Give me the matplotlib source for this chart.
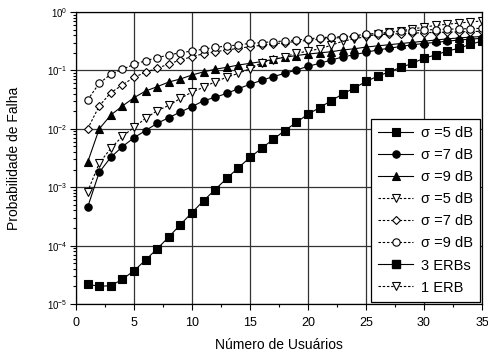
import numpy as np
import matplotlib
matplotlib.use("Agg")
import matplotlib.pyplot as plt
from matplotlib.lines import Line2D
from matplotlib.ticker import LogLocator, MultipleLocator, LogFormatterSciNotation

plt.rcParams['font.family'] = ['Liberation Sans', 'DejaVu Sans']
plt.rcParams['mathtext.fontset'] = 'custom'
plt.rcParams['mathtext.rm'] = 'Liberation Sans'
plt.rcParams['mathtext.it'] = 'Liberation Sans:italic'
plt.rcParams['mathtext.bf'] = 'Liberation Sans:bold'

users = np.arange(1, 36)

# log10 of failure probability
log_s5_solid = [-4.663, -4.697, -4.687, -4.577, -4.43, -4.247, -4.053, -3.853, -3.64, -3.435,
                -3.23, -3.04, -2.848, -2.666, -2.49, -2.334, -2.18, -2.03, -1.89, -1.75,
                -1.638, -1.518, -1.404, -1.30, -1.19, -1.10, -1.025, -0.948, -0.879, -0.79,
                -0.736, -0.668, -0.622, -0.553, -0.497]
log_s7_solid = [-3.345, -2.745, -2.488, -2.306, -2.152, -2.03, -1.906, -1.81, -1.712, -1.62,
                -1.52, -1.46, -1.393, -1.313, -1.238, -1.17, -1.107, -1.05, -0.993, -0.93,
                -0.879, -0.822, -0.77, -0.73, -0.69, -0.65, -0.62, -0.59, -0.56, -0.54,
                -0.52, -0.50, -0.48, -0.465, -0.45]
log_s9_solid = [-2.574, -2.003, -1.764, -1.61, -1.467, -1.353, -1.279, -1.199, -1.147, -1.079,
                -1.025, -0.98, -0.947, -0.908, -0.879, -0.85, -0.81, -0.776, -0.745, -0.72,
                -0.70, -0.68, -0.65, -0.63, -0.60, -0.58, -0.56, -0.54, -0.52, -0.50,
                -0.48, -0.46, -0.445, -0.43, -0.42]
log_s5_dot = [-3.077, -2.591, -2.334, -2.13, -1.975, -1.82, -1.69, -1.60, -1.48, -1.37,
              -1.29, -1.193, -1.118, -1.05, -0.97, -0.87, -0.82, -0.765, -0.708, -0.67,
              -0.63, -0.57, -0.50, -0.46, -0.42, -0.38, -0.35, -0.32, -0.29, -0.26,
              -0.23, -0.21, -0.19, -0.17, -0.155]
log_s7_dot = [-2.003, -1.61, -1.381, -1.25, -1.118, -1.033, -0.964, -0.89, -0.822, -0.765,
              -0.714, -0.68, -0.651, -0.622, -0.594, -0.57, -0.545, -0.525, -0.505, -0.485,
              -0.465, -0.45, -0.435, -0.42, -0.405, -0.39, -0.38, -0.37, -0.36, -0.355,
              -0.35, -0.345, -0.34, -0.335, -0.33]
log_s9_dot = [-1.507, -1.221, -1.067, -0.981, -0.896, -0.834, -0.782, -0.736, -0.697, -0.668,
              -0.636, -0.605, -0.582, -0.565, -0.536, -0.525, -0.508, -0.497, -0.479, -0.462,
              -0.44, -0.43, -0.42, -0.405, -0.38, -0.365, -0.35, -0.33, -0.32, -0.31,
              -0.30, -0.295, -0.29, -0.285, -0.28]

labels = ["σ =5 dB", "σ =7 dB", "σ =9 dB", "σ =5 dB", "σ =7 dB", "σ =9 dB", "3 ERBs", "1 ERB"]

fig = plt.figure(figsize=(4.89, 3.56), dpi=100)
ax = fig.add_axes([76/489, 1-304/356, (482-76)/489, (304-12)/356])

dot = (0, (2.2, 1.6))
ms = 5.3
lw = 0.8
styles = [
    (log_s5_solid, dict(marker='s', ls='-', mfc='black')),
    (log_s7_solid, dict(marker='o', ls='-', mfc='black')),
    (log_s9_solid, dict(marker='^', ls='-', mfc='black')),
    (log_s5_dot, dict(marker='v', ls=dot, mfc='white')),
    (log_s7_dot, dict(marker='D', ls=dot, mfc='white', ms=4.4)),
    (log_s9_dot, dict(marker='o', ls=dot, mfc='white')),
]
handles = []
for (vals, st), lab in zip(styles, labels[:6]):
    kw = dict(color='black', mec='black', ms=ms, lw=lw, mew=0.8)
    kw.update(st)
    h, = ax.plot(users, 10.0 ** np.array(vals), label=lab, **kw)
    handles.append(h)
handles.append(Line2D([], [], color='black', marker='s', ls='-', mfc='black', mec='black', ms=ms, lw=lw))
handles.append(Line2D([], [], color='black', marker='v', ls=dot, mfc='white', mec='black', ms=ms, lw=lw, mew=0.8))

ax.set_yscale('log')
ax.set_xlim(0, 35)
ax.set_ylim(1e-5, 1)
ax.xaxis.set_major_locator(MultipleLocator(5))
ax.xaxis.set_minor_locator(MultipleLocator(2.5))
ax.yaxis.set_major_locator(LogLocator(base=10, numticks=10))
ax.yaxis.set_minor_locator(LogLocator(base=10, subs=np.arange(2, 10), numticks=10))
ax.yaxis.set_major_formatter(LogFormatterSciNotation())
ax.grid(True, which='major', color='#333333', lw=0.9)
ax.tick_params(which='both', direction='out', labelsize=9, width=0.8)
ax.tick_params(which='major', length=4)
ax.tick_params(which='minor', length=2.5)
ax.tick_params(axis='x', pad=5)
ax.tick_params(axis='y', labelsize=7, pad=2)
for s in ax.spines.values():
    s.set_linewidth(0.9)

ax.set_xlabel("Número de Usuários", fontsize=10, labelpad=7)
ax.set_ylabel("Probabilidade de Falha", fontsize=10, labelpad=19)

leg = ax.legend(handles, labels, loc='lower right', bbox_to_anchor=(1.0, 0.0), fontsize=10.5,
                frameon=True, fancybox=False, edgecolor='black', framealpha=1,
                handlelength=2.4, handletextpad=0.5, labelspacing=0.55, borderpad=0.5,
                borderaxespad=0.15)
leg.get_frame().set_linewidth(0.9)

fig.savefig("out.png", dpi=100)
